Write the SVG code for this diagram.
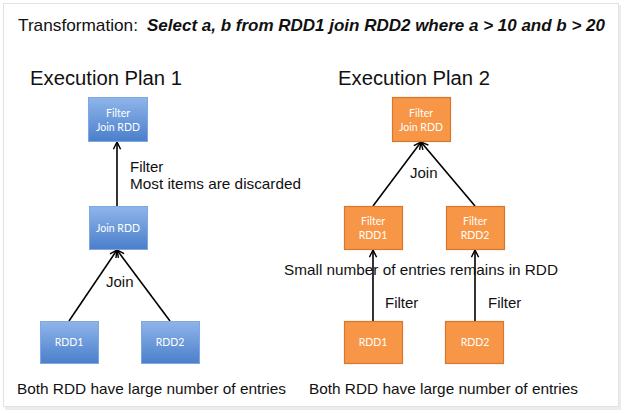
<svg xmlns="http://www.w3.org/2000/svg" width="628" height="413" viewBox="0 0 628 413">
<defs>
<linearGradient id="blue" x1="0" y1="0" x2="0" y2="1">
<stop offset="0" stop-color="#8fb5ea"/>
<stop offset="1" stop-color="#4a7fcb"/>
</linearGradient>
<marker id="arr" viewBox="0 0 10 10" refX="9" refY="5" markerWidth="9" markerHeight="9" markerUnits="userSpaceOnUse" orient="auto">
<path d="M1,1 L9,5 L1,9" fill="none" stroke="#000" stroke-width="1.6"/>
</marker>
</defs>
<style>
.lbl{font-family:"Liberation Sans",Arial,sans-serif;font-size:15px;fill:#111}
.bx{fill:url(#blue);stroke:#7ea8e0;stroke-width:1}
.ox{fill:#f79646;stroke:#d7772e;stroke-width:1.2}
.bt{font-family:Lato,"Open Sans",sans-serif;font-size:10.5px;fill:#fff;text-anchor:middle}
.edge{stroke:#000;stroke-width:1.6;fill:none;marker-end:url(#arr)}
.hdr{font-family:"Liberation Sans",Arial,sans-serif;font-size:20px;fill:#111}
</style>
<rect x="0" y="0" width="628" height="413" fill="#fff"/>
<rect x="5" y="5" width="616" height="405" fill="#ececec"/>
<rect x="3.5" y="3.5" width="615" height="403" fill="#fff" stroke="#e2e2e2"/>
<text x="18" y="31" font-family="'Liberation Sans',Arial,sans-serif" font-size="17" fill="#111"><tspan textLength="120" lengthAdjust="spacingAndGlyphs">Transformation:</tspan><tspan x="147" font-weight="bold" font-style="italic" textLength="458" lengthAdjust="spacingAndGlyphs">Select a, b from RDD1 join RDD2 where a &gt; 10 and b &gt; 20</tspan></text>
<text class="hdr" x="30" y="85" textLength="152" lengthAdjust="spacingAndGlyphs">Execution Plan 1</text>
<text class="hdr" x="338" y="85" textLength="152" lengthAdjust="spacingAndGlyphs">Execution Plan 2</text>
<g id="connectors">
<line class="edge" x1="117" y1="206" x2="117" y2="142"/>
<line class="edge" x1="69" y1="321" x2="117" y2="250"/>
<line class="edge" x1="170" y1="321" x2="117" y2="250"/>
<line class="edge" x1="373" y1="206" x2="421" y2="142"/>
<line class="edge" x1="475" y1="206" x2="421" y2="142"/>
<line class="edge" x1="373" y1="321" x2="373" y2="250"/>
<line class="edge" x1="475" y1="321" x2="475" y2="250"/>
</g>
<g id="labels">
<text class="lbl" x="130" y="172">Filter</text>
<text class="lbl" x="130" y="189" textLength="171" lengthAdjust="spacingAndGlyphs">Most items are discarded</text>
<text class="lbl" x="106" y="287">Join</text>
<text class="lbl" x="17" y="394" textLength="269" lengthAdjust="spacingAndGlyphs">Both RDD have large number of entries</text>
<text class="lbl" x="410" y="178">Join</text>
<text class="lbl" x="284" y="275" textLength="274" lengthAdjust="spacingAndGlyphs">Small number of entries remains in RDD</text>
<text class="lbl" x="385" y="308">Filter</text>
<text class="lbl" x="488" y="308">Filter</text>
<text class="lbl" x="309" y="394" textLength="269" lengthAdjust="spacingAndGlyphs">Both RDD have large number of entries</text>
</g>
<g id="p1-filterjoin"><rect class="bx" x="88.5" y="97.5" width="59" height="44"/><text class="bt" x="118" y="117">Filter</text><text class="bt" x="118" y="131">Join RDD</text></g>
<g id="p1-join"><rect class="bx" x="89.5" y="206.5" width="58" height="43"/><text class="bt" x="118" y="232">Join RDD</text></g>
<g id="p1-rdd1"><rect class="bx" x="40.5" y="321.5" width="58" height="42"/><text class="bt" x="69" y="346">RDD1</text></g>
<g id="p1-rdd2"><rect class="bx" x="141.5" y="321.5" width="58" height="42"/><text class="bt" x="170" y="346">RDD2</text></g>
<g id="p2-filterjoin"><rect class="ox" x="392.5" y="97.5" width="58" height="44"/><text class="bt" x="421" y="117">Filter</text><text class="bt" x="421" y="131">Join RDD</text></g>
<g id="p2-filter1"><rect class="ox" x="344.5" y="206.5" width="58" height="43"/><text class="bt" x="373" y="225">Filter</text><text class="bt" x="373" y="239">RDD1</text></g>
<g id="p2-filter2"><rect class="ox" x="446.5" y="206.5" width="58" height="43"/><text class="bt" x="475" y="225">Filter</text><text class="bt" x="475" y="239">RDD2</text></g>
<g id="p2-rdd1"><rect class="ox" x="344.5" y="321.5" width="58" height="42"/><text class="bt" x="373" y="346">RDD1</text></g>
<g id="p2-rdd2"><rect class="ox" x="445.5" y="321.5" width="58" height="42"/><text class="bt" x="475" y="346">RDD2</text></g>
</svg>
